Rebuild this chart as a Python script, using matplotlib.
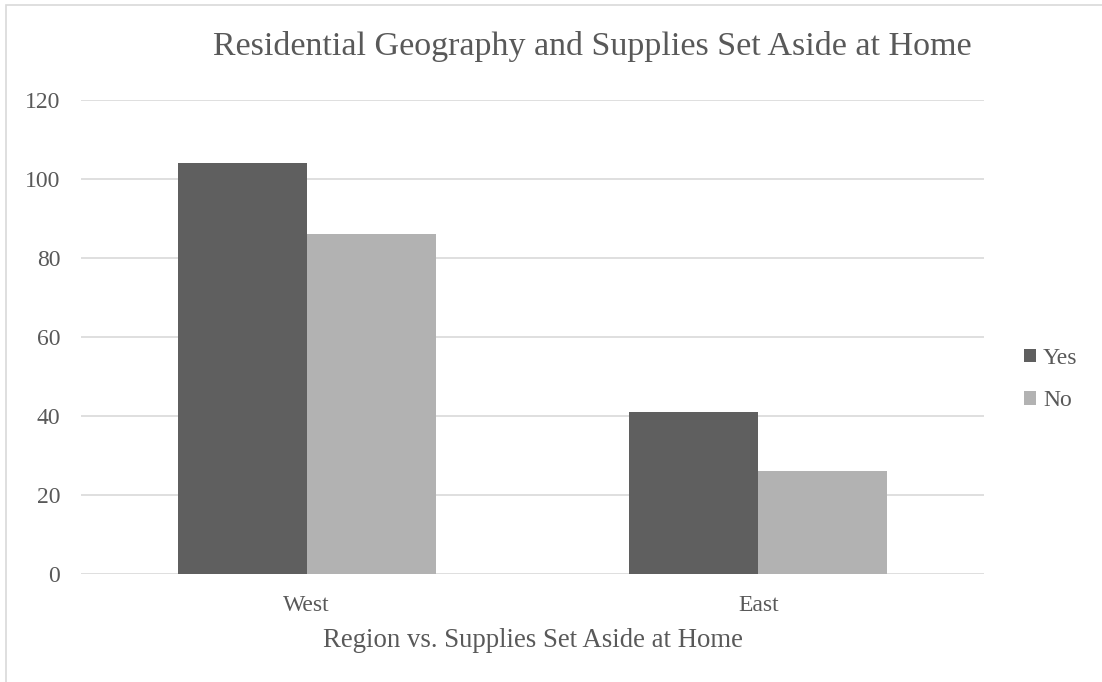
import numpy as np
import matplotlib.pyplot as plt
from matplotlib.patches import Rectangle

# Datos
regiones = ["West", "East"]
series = ["Yes", "No"]
valores_yes = [104, 41]
valores_no = [86, 26]
ticks_y = [0, 20, 40, 60, 80, 100, 120]

plt.rcParams['font.family'] = ['Liberation Serif', 'DejaVu Serif']

fig = plt.figure(figsize=(11.02, 6.82), dpi=100)
ax = fig.add_axes([81/1102, 1 - 574/682, (984-81)/1102, (574-100)/682])

# Borde del gráfico
fig.patches.append(Rectangle((6/1102, -0.01), 1.2, 1 - 5/682 + 0.01, transform=fig.transFigure,
                             fill=False, edgecolor='#d9d9d9', linewidth=1.2))

x = np.arange(len(regiones))
ancho = 0.286
ax.bar(x - ancho/2, valores_yes, ancho, color='#5f5f5f', label=series[0], zorder=3)
ax.bar(x + ancho/2, valores_no, ancho, color='#b2b2b2', label=series[1], zorder=3)

ax.set_xlim(-0.5, 1.5)
ax.set_ylim(0, 120)
ax.set_yticks(ticks_y)
ax.set_xticks(x)
ax.set_xticklabels(regiones)
ax.tick_params(axis='both', length=0, labelsize=17, colors='#595959')
ax.tick_params(axis='y', pad=15)
ax.tick_params(axis='x', pad=15)
ax.grid(axis='y', color='#d9d9d9', linewidth=1.2, zorder=0)
for s in ax.spines.values():
    s.set_visible(False)

ax.set_xlabel("Region vs. Supplies Set Aside at Home", fontsize=19.3, color='#595959', labelpad=9)
fig.text(592/1102, 1 - 47/682, "Residential Geography and Supplies Set Aside at Home",
         fontsize=24.5, color='#595959', ha='center', va='center')

ax.legend(loc='center left', bbox_to_anchor=(1.021, 0.41), frameon=False, fontsize=17,
          labelcolor='#595959', handlelength=0.5, handleheight=0.5, handletextpad=0.3,
          labelspacing=0.9)

fig.savefig("out.png", dpi=100)
